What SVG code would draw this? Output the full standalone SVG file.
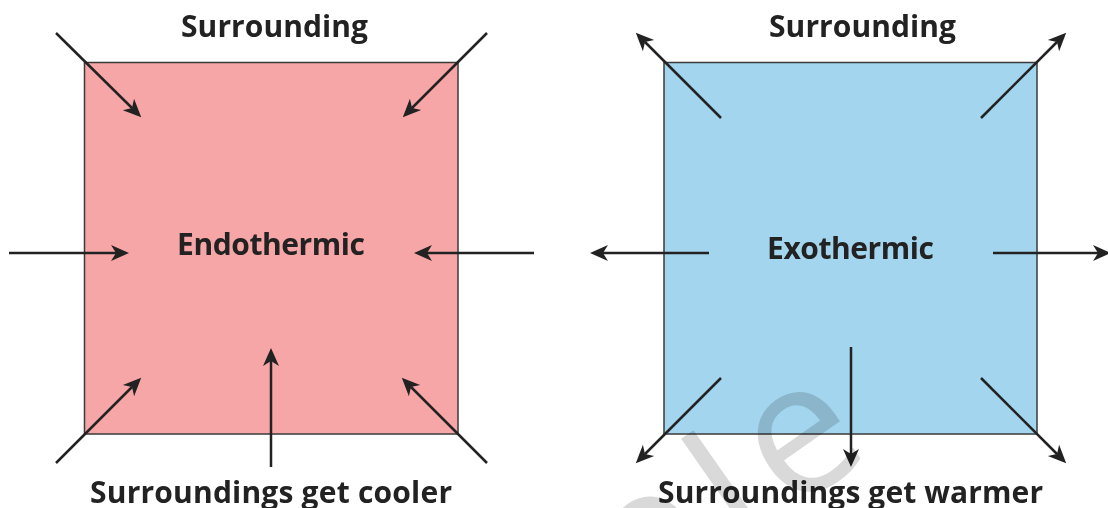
<svg xmlns="http://www.w3.org/2000/svg" width="1108" height="508" viewBox="0 0 1108 508">
<style>
.box{stroke:#3a3a3a;stroke-width:1.5}
.lbl{font-family:"Open Sans","Noto Sans","Liberation Sans",sans-serif;font-weight:700;font-size:30px;fill:#222}
.arr{stroke:#222;stroke-width:2.5;fill:none;marker-end:url(#ah)}
.wm{font-family:"Open Sans","Noto Sans",sans-serif;font-weight:400;font-size:185px;fill:#d9d9d9;letter-spacing:15px;mix-blend-mode:multiply}
</style>
<defs>
<marker id="ah" markerUnits="userSpaceOnUse" markerWidth="19" markerHeight="18" viewBox="0 -9 19 18" refX="5" refY="0" orient="auto">
<path d="M18,0 L0,-8 L5,0 L0,8 Z" fill="#222"/>
</marker>
</defs>
<rect width="1108" height="508" fill="#fff"/>
<g id="endothermic">
<rect class="box" x="84.5" y="62.5" width="373.5" height="371.5" fill="#f7a6a7"/>
<text class="lbl" x="177" y="255" textLength="188">Endothermic</text>
</g>
<g id="exothermic">
<rect class="box" x="664" y="62.5" width="373" height="371.5" fill="#a3d5ee"/>
<text class="lbl" x="767" y="259" textLength="167">Exothermic</text>
</g>
<g id="labels">
<text class="lbl" x="181" y="37" textLength="187">Surrounding</text>
<text class="lbl" x="769" y="37" textLength="187">Surrounding</text>
<text class="lbl" x="90" y="503" textLength="362">Surroundings get cooler</text>
<text class="lbl" x="658" y="503" textLength="385">Surroundings get warmer</text>
</g>
<g id="connectors">
<path class="arr" d="M56,33 L132,108"/>
<path class="arr" d="M487,33 L412,108"/>
<path class="arr" d="M9,253 L116,253"/>
<path class="arr" d="M534,253 L427,253"/>
<path class="arr" d="M56,463 L132,387"/>
<path class="arr" d="M487,463 L411,387"/>
<path class="arr" d="M271,467 L271,361"/>
<path class="arr" d="M721,118 L645,42"/>
<path class="arr" d="M981,118 L1057,42"/>
<path class="arr" d="M709,253 L603,253"/>
<path class="arr" d="M993,253 L1098,253"/>
<path class="arr" d="M721,378 L645,454"/>
<path class="arr" d="M981,378 L1057,454"/>
<path class="arr" d="M851,347 L851,454"/>
</g>
<g id="watermark" transform="translate(739,549) rotate(-35)">
<text class="wm" x="0" y="0"><tspan x="0" text-anchor="end">Samp</tspan><tspan x="0" dy="17" text-anchor="start">l</tspan><tspan dy="-17">e</tspan></text>
</g>
</svg>
